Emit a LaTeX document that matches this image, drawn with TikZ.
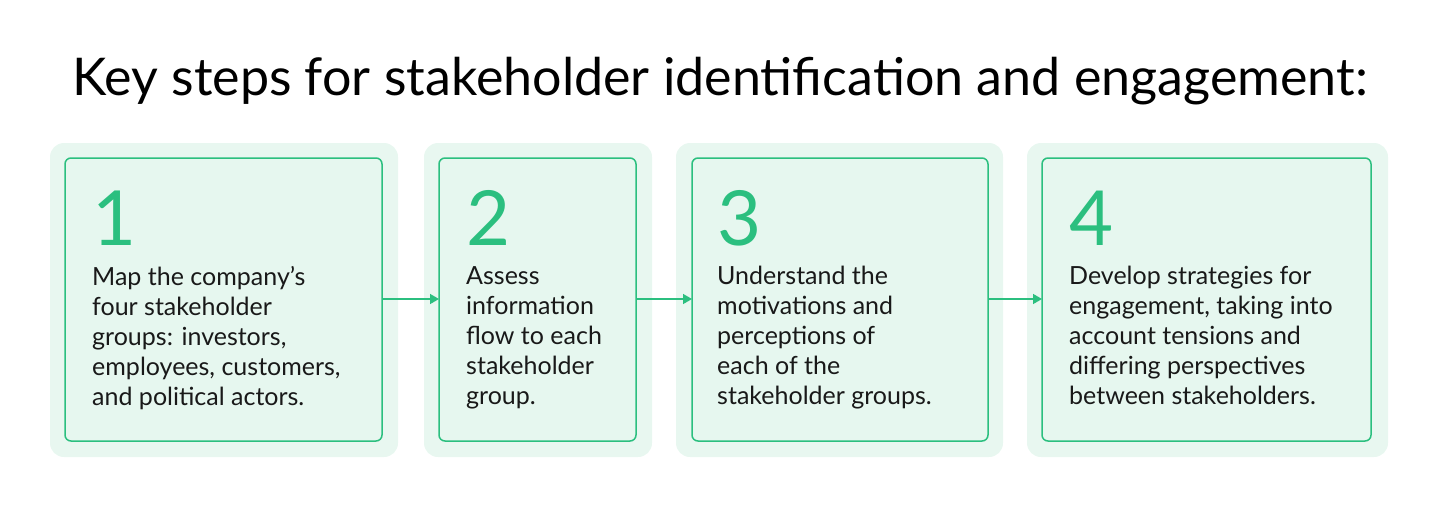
\documentclass[tikz,border=0pt]{standalone}
\usepackage{fontspec}
\setmainfont{Lato}
\usetikzlibrary{arrows.meta}
\definecolor{gr}{HTML}{2BBF7F}
\definecolor{bgo}{HTML}{E8F7F0}
\definecolor{bgi}{HTML}{E6F7EF}
\begin{document}
\begin{tikzpicture}[x=1pt,y=-1pt,
 outer/.style={fill=bgo,draw=none,rounded corners=14pt},
 inner/.style={fill=bgi,draw=gr,line width=1.5pt,rounded corners=6pt},
 num/.style={anchor=base west,inner sep=0,text=gr,font=\fontsize{76}{76}\selectfont},
 body/.style={anchor=north west,inner sep=0,align=left,font=\fontsize{25}{30}\selectfont,text=black!90},
 arr/.style={draw=gr,line width=1.5pt,-{Triangle[length=9pt,width=10pt]}}]
\useasboundingbox (0,0) rectangle (1440,507);
\node[anchor=base,inner sep=0,font=\fontsize{52}{52}\selectfont] (title) at (720,95) {Key steps for stakeholder identification and engagement:};
\foreach \i/\ox/\oX/\ix/\iX in {1/50/398/65/382, 2/424/652/439/636, 3/676/1003/692/988, 4/1027/1388/1042/1371}{
 \path[outer] (\ox,143) rectangle (\oX,457);
 \path[inner] (\ix,158) rectangle (\iX,441);
 \coordinate (L\i) at (\ix,299);
 \coordinate (R\i) at (\iX,299);
}
\node[num] (n1) at (92,245) {1};
\node[num] (n2) at (466,245) {2};
\node[num] (n3) at (717,245) {3};
\node[num] (n4) at (1069,245) {4};
\node[body] (t1) at (92,266) {Map the company's\\four stakeholder\\groups: investors,\\employees, customers,\\and political actors.};
\node[body] (t2) at (466,266) {Assess\\information\\flow to each\\stakeholder\\group.};
\node[body] (t3) at (717,266) {Understand the\\motivations and\\perceptions of\\each of the\\stakeholder groups.};
\node[body] (t4) at (1069,266) {Develop strategies for\\engagement, taking into\\account tensions and\\differing perspectives\\between stakeholders.};
\draw[arr] (R1) -- (L2);
\draw[arr] (R2) -- (L3);
\draw[arr] (R3) -- (L4);
\end{tikzpicture}
\end{document}
